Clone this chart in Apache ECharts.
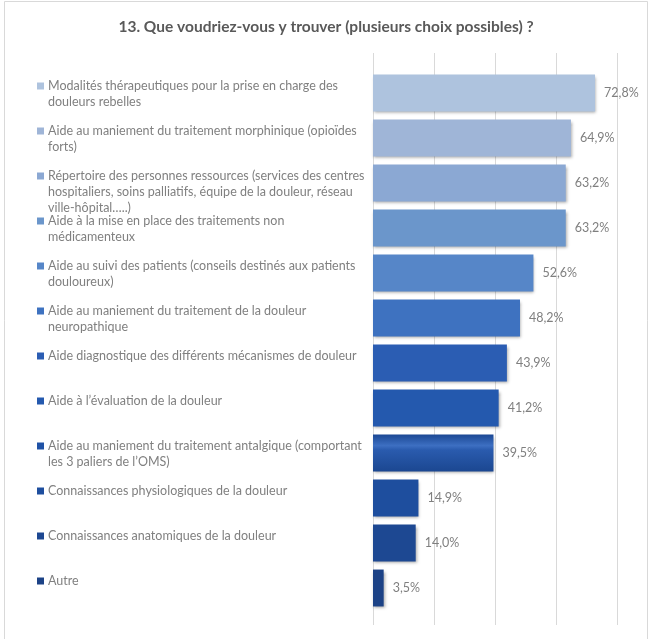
<!DOCTYPE html>
<html>
<head>
<meta charset="utf-8">
<script src="https://cdn.jsdelivr.net/npm/echarts@6/dist/echarts.min.js"></script>
<style>html,body{margin:0;padding:0;background:#fff}#c{width:652px;height:639px}</style>
</head>
<body>
<div id="c"></div>
<script>
var titleText = "13. Que voudriez-vous y trouver (plusieurs choix possibles) ?";
var categories = [
  "Modalités thérapeutiques pour la prise en charge des\ndouleurs rebelles",
  "Aide au maniement du traitement morphinique (opioïdes\nforts)",
  "Répertoire des personnes ressources (services des centres\nhospitaliers, soins palliatifs, équipe de la douleur, réseau\nville-hôpital…..)",
  "Aide à la mise en place des traitements non\nmédicamenteux",
  "Aide au suivi des patients (conseils destinés aux patients\ndouloureux)",
  "Aide au maniement du traitement de la douleur\nneuropathique",
  "Aide diagnostique des différents mécanismes de douleur",
  "Aide à l’évaluation de la douleur",
  "Aide au maniement du traitement antalgique (comportant\nles 3 paliers de l’OMS)",
  "Connaissances physiologiques de la douleur",
  "Connaissances anatomiques de la douleur",
  "Autre"
];
var values = [72.8, 64.9, 63.2, 63.2, 52.6, 48.2, 43.9, 41.2, 39.5, 14.9, 14.0, 3.5];
var colors = ["#aec3de", "#9fb5d7", "#8ba8d3", "#6b96cb", "#5686c8", "#3e72c0",
              "#2b5db3", "#2459ae", "#1f52a6", "#1e4e9e", "#1d4892", "#1c4286"];
var xTicks = [0, 20, 40, 60, 80];

var FONT = "Lato";
var rich = {
  t: {color: "#808080", fontSize: 12.5, fontFamily: FONT, lineHeight: 16, padding: [0, 0, 0, 4]},
  c: {color: "#808080", fontSize: 12.5, fontFamily: FONT, lineHeight: 16, padding: [0, 0, 0, 11]}
};
colors.forEach(function (col, i) {
  rich["s" + i] = {width: 7, height: 7, backgroundColor: col};
});

var barData = values.map(function (v, i) {
  var style = {color: colors[i]};
  if (i === 8) {
    style.color = new echarts.graphic.LinearGradient(0, 0, 0, 1, [
      {offset: 0, color: "#1b4894"},
      {offset: 0.3, color: "#3d6fc2"},
      {offset: 0.42, color: "#2a5bae"},
      {offset: 1, color: "#1b4791"}
    ]);
  }
  return {value: v, itemStyle: style};
});

var chart = echarts.init(document.getElementById("c"), null, {renderer: "canvas"});
var L = 373, R = 35;
chart.setOption({
  animation: false,
  backgroundColor: "#ffffff",
  title: {
    text: titleText, left: "center", top: 14,
    textStyle: {color: "#595959", fontSize: 15.5, fontWeight: "bold", fontFamily: FONT}
  },
  graphic: [{
    type: "rect", shape: {x: 4.5, y: 1.5, width: 643, height: 645},
    style: {fill: "none", stroke: "#d9d9d9", lineWidth: 1}, silent: true
  }],
  grid: [
    {left: L, right: R, top: 53, bottom: 14},
    {left: L, right: R, top: 70.5, bottom: 28.5},
    {left: L, right: R, top: 55.5, bottom: 43.5}
  ],
  xAxis: [
    {gridIndex: 0, type: "value", min: xTicks[0], max: xTicks[xTicks.length - 1], interval: 20,
     axisLabel: {show: false}, axisLine: {show: false}, axisTick: {show: false},
     splitLine: {show: true, lineStyle: {color: "#d9d9d9", width: 1}}},
    {gridIndex: 1, type: "value", min: 0, max: 80, show: false},
    {gridIndex: 2, type: "value", min: 0, max: 80, show: false}
  ],
  yAxis: [
    {gridIndex: 0, type: "category", data: categories, show: false},
    {gridIndex: 1, type: "category", data: categories, inverse: true, show: false},
    {gridIndex: 2, type: "category", data: categories, inverse: true,
     axisLine: {show: false}, axisTick: {show: false},
     axisLabel: {
       show: true, align: "left", verticalAlign: "top", margin: 336, interval: 0,
       rich: rich,
       formatter: function (val, idx) {
         var lines = val.split("\n");
         var out = "{s" + idx + "|}{t|" + lines[0] + "}";
         for (var k = 1; k < lines.length; k++) out += "\n{c|" + lines[k] + "}";
         return out;
       }
     }}
  ],
  series: [{
    type: "bar", xAxisIndex: 1, yAxisIndex: 1,
    data: barData, barCategoryGap: "18%",
    itemStyle: {shadowColor: "rgba(0,0,0,0.35)", shadowBlur: 3, shadowOffsetX: 1, shadowOffsetY: 2},
    label: {
      show: true, position: "right", distance: 9,
      color: "#7f7f7f", fontSize: 12.5, fontFamily: FONT,
      formatter: function (p) { return p.value.toFixed(1).replace(".", ",") + "%"; }
    }
  }]
});
</script>
</body>
</html>
